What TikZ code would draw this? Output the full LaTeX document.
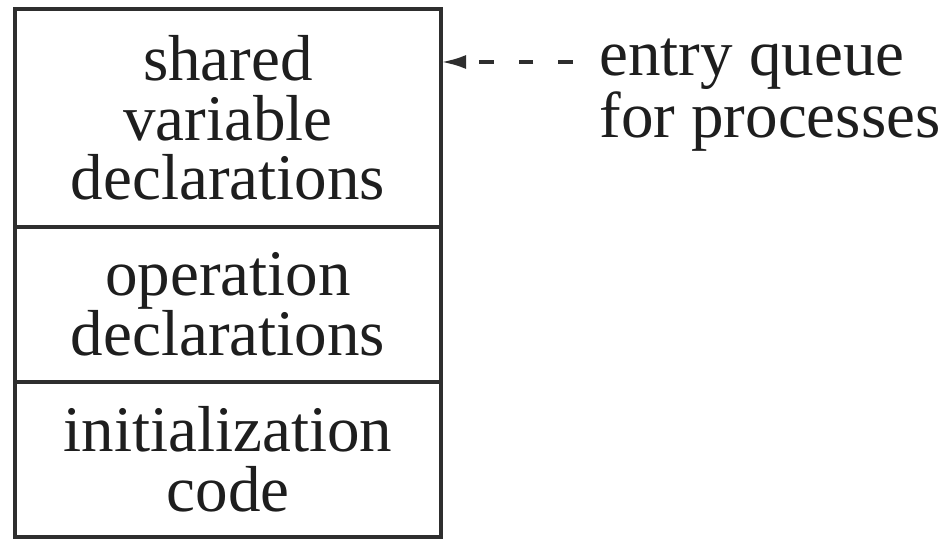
\documentclass[tikz,border=0pt]{standalone}
\usepackage{fontspec}
\setmainfont{Liberation Serif}
\usetikzlibrary{arrows.meta,positioning}
\definecolor{ink}{HTML}{1E1E1E}
\definecolor{rule}{HTML}{2E2E2E}

\begin{document}
\begin{tikzpicture}[
        font=\fontsize{37}{34}\selectfont,
        part/.style={draw=rule,line width=1.8pt,fill=white,text=ink,
          minimum width=8.52cm,align=center,inner sep=0pt,outer sep=0pt},
        note/.style={text=ink,align=left,inner sep=0pt},
        qarrow/.style={-{Latex[length=5mm,width=2.8mm]},line width=2.1pt,
          draw=rule,dash pattern=on 8.5pt off 14pt}
      ]
        \useasboundingbox (0,0) rectangle (18.92,-10.8);
        \node[part,anchor=north west,minimum height=4.36cm] (shared) at (0.30,-0.18)
          {shared\\variable\\declarations};
        \node[part,minimum height=3.1cm,below=0pt of shared] (ops)
          {operation\\declarations};
        \node[part,minimum height=3.1cm,below=0pt of ops] (init)
          {initialization\\code};
        \node[note,anchor=west] (queue) at (11.98,-1.90) {entry queue\\for processes};
        \coordinate (qstart) at (11.46,-1.24);
        \draw[qarrow] (qstart) -- (qstart -| shared.east);
      \end{tikzpicture}
\end{document}
